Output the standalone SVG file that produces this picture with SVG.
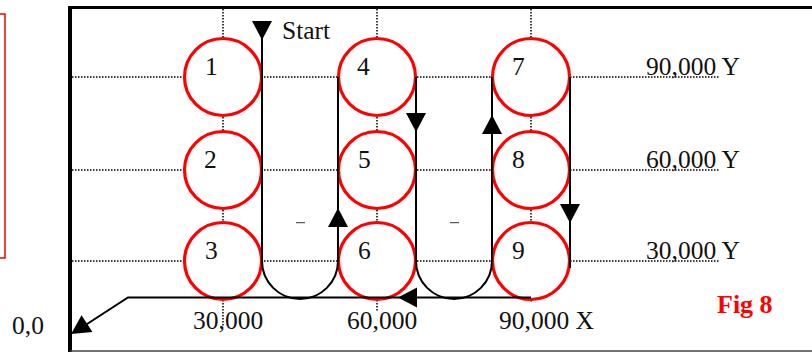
<svg xmlns="http://www.w3.org/2000/svg" width="812" height="352" viewBox="0 0 812 352">
  <style>
    .grid { stroke: #000; stroke-width: 1.5; stroke-dasharray: 1.5 1.5; fill: none; }
    .hole { fill: #fff; stroke: #f00; stroke-width: 3.2; }
    .path { fill: none; stroke: #000; stroke-width: 2; }
    .lbl { font-family: "Liberation Serif", "Times New Roman", serif; font-size: 25.5px; fill: #111; }
    .fig { font-family: "Liberation Serif", "Times New Roman", serif; font-size: 26px; font-weight: bold; fill: #f00; }
  </style>
  <defs>
    <!-- arrowhead pointing down, base centred at origin -->
    <path id="tri" d="M-10,0 L10,0 L0,19 Z" fill="#000"/>
  </defs>

  <rect width="812" height="352" fill="#fff"/>

  <!-- red box at the left margin -->
  <rect x="-10" y="14" width="15" height="244" fill="none" stroke="#e00" stroke-width="1.5"/>

  <!-- frame -->
  <g id="frame" stroke="#000" fill="none">
    <line x1="70" y1="7.5" x2="812" y2="7.5" stroke-width="3"/>
    <line x1="70" y1="6" x2="70" y2="352" stroke-width="4"/>
    <line x1="70" y1="351" x2="812" y2="351" stroke-width="1.5" stroke="#444"/>
  </g>

  <!-- coordinate grid -->
  <g id="grid" class="grid">
    <line x1="72" y1="77" x2="720" y2="77"/>
    <line x1="72" y1="170" x2="720" y2="170"/>
    <line x1="72" y1="261" x2="720" y2="261"/>
    <line x1="223" y1="9" x2="223" y2="327"/>
    <line x1="377" y1="9" x2="377" y2="312"/>
    <line x1="531" y1="9" x2="531" y2="303"/>
  </g>

  <!-- holes -->
  <g id="hole1"><circle class="hole" cx="223" cy="77" r="38.5"/><text class="lbl" x="205" y="75">1</text></g>
  <g id="hole2"><circle class="hole" cx="223" cy="170" r="38.5"/><text class="lbl" x="204" y="168">2</text></g>
  <g id="hole3"><circle class="hole" cx="223" cy="261" r="38.5"/><text class="lbl" x="205" y="259">3</text></g>
  <g id="hole4"><circle class="hole" cx="377" cy="77" r="38.5"/><text class="lbl" x="357" y="75">4</text></g>
  <g id="hole5"><circle class="hole" cx="377" cy="170" r="38.5"/><text class="lbl" x="358" y="168">5</text></g>
  <g id="hole6"><circle class="hole" cx="377" cy="261" r="38.5"/><text class="lbl" x="358" y="259">6</text></g>
  <g id="hole7"><circle class="hole" cx="531" cy="77" r="38.5"/><text class="lbl" x="512" y="75">7</text></g>
  <g id="hole8"><circle class="hole" cx="531" cy="170" r="38.5"/><text class="lbl" x="512" y="168">8</text></g>
  <g id="hole9"><circle class="hole" cx="531" cy="261" r="38.5"/><text class="lbl" x="512" y="259">9</text></g>

  <!-- tool path -->
  <g id="connectors">
    <path class="path" d="M262,21 V261 A38,38 0 0 0 338,261 V77"/>
    <path class="path" d="M416,77 V261 A38,38 0 0 0 492,261 V77"/>
    <path class="path" d="M570,77 V268"/>
    <path class="path" d="M531,297.5 H128 L84,326"/>
    <use href="#tri" transform="translate(262,21)"/>
    <use href="#tri" transform="translate(338,227) rotate(180)"/>
    <use href="#tri" transform="translate(416,113)"/>
    <use href="#tri" transform="translate(492,134) rotate(180)"/>
    <use href="#tri" transform="translate(570,204)"/>
    <use href="#tri" transform="translate(417,297.5) rotate(90)"/>
    <use href="#tri" transform="translate(87,323.6) rotate(57)"/>
    <line x1="296" y1="222.7" x2="305" y2="222.7" stroke="#333" stroke-width="1"/>
    <line x1="450" y1="222.7" x2="459" y2="222.7" stroke="#333" stroke-width="1"/>
  </g>

  <!-- labels -->
  <g id="labels">
    <text class="lbl" x="282" y="39">Start</text>
    <text class="lbl" x="646" y="75">90,000 Y</text>
    <text class="lbl" x="646" y="168">60,000 Y</text>
    <text class="lbl" x="646" y="259">30,000 Y</text>
    <text class="lbl" x="193" y="329">30,000</text>
    <text class="lbl" x="347" y="329">60,000</text>
    <text class="lbl" x="499" y="329">90,000 X</text>
    <text class="lbl" x="12" y="334">0,0</text>
    <text class="fig" x="717" y="313">Fig 8</text>
  </g>
</svg>
